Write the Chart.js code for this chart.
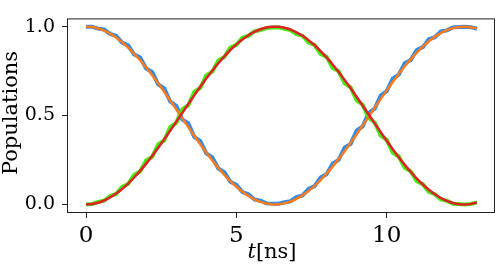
<!DOCTYPE html>
<html>
<head>
<meta charset="utf-8">
<script src="https://cdn.jsdelivr.net/npm/chart.js@4/dist/chart.umd.min.js"></script>
<style>
  html, body { margin: 0; padding: 0; background: #fff; }
  #wrap { width: 498px; height: 266px; position: relative; }
</style>
</head>
<body>
<div id="wrap"><canvas id="chart"></canvas></div>
<script>
// time axis, ns
const times = [0, 0.2, 0.4, 0.6, 0.8, 1.0, 1.2, 1.4, 1.6, 1.8, 2.0, 2.2, 2.4, 2.6, 2.8, 3.0, 3.2, 3.4, 3.6, 3.8,
  4.0, 4.2, 4.4, 4.6, 4.8, 5.0, 5.2, 5.4, 5.6, 5.8, 6.0, 6.2, 6.4, 6.6, 6.8, 7.0, 7.2, 7.4, 7.6, 7.8,
  8.0, 8.2, 8.4, 8.6, 8.8, 9.0, 9.2, 9.4, 9.6, 9.8, 10.0, 10.2, 10.4, 10.6, 10.8, 11.0, 11.2, 11.4, 11.6, 11.8,
  12.0, 12.2, 12.4, 12.6, 12.8, 13.0];

// noisy population, state 0 (blue)
const blueNoisy = [1.000, 0.999, 0.989, 0.984, 0.959, 0.949, 0.910, 0.895, 0.844, 0.827,
  0.765, 0.745, 0.675, 0.653, 0.579, 0.555, 0.479, 0.456, 0.380, 0.357,
  0.287, 0.265, 0.202, 0.181, 0.128, 0.111, 0.070, 0.057, 0.028, 0.021,
  0.006, 0.004, 0.004, 0.012, 0.018, 0.041, 0.051, 0.088, 0.103, 0.152,
  0.170, 0.230, 0.251, 0.319, 0.341, 0.415, 0.439, 0.514, 0.539, 0.613,
  0.637, 0.708, 0.730, 0.794, 0.813, 0.869, 0.885, 0.929, 0.941, 0.973,
  0.979, 0.996, 0.998, 0.999, 0.997, 0.988];

// smooth population, state 0 (orange)
const orangeFit = [1.0000, 0.9975, 0.9900, 0.9777, 0.9605, 0.9388, 0.9127, 0.8824, 0.8484, 0.8108,
  0.7702, 0.7268, 0.6812, 0.6338, 0.5850, 0.5354, 0.4854, 0.4356, 0.3864, 0.3384,
  0.2919, 0.2476, 0.2058, 0.1669, 0.1313, 0.0994, 0.0716, 0.0480, 0.0289, 0.0145,
  0.0050, 0.0004, 0.0009, 0.0063, 0.0166, 0.0318, 0.0516, 0.0760, 0.1045, 0.1370,
  0.1732, 0.2126, 0.2549, 0.2996, 0.3463, 0.3946, 0.4439, 0.4938, 0.5438, 0.5933,
  0.6418, 0.6890, 0.7343, 0.7772, 0.8173, 0.8543, 0.8878, 0.9174, 0.9428, 0.9637,
  0.9801, 0.9916, 0.9983, 0.9999, 0.9966, 0.9883];

// noisy population, state 1 (green)
const greenNoisy = [0.000, 0.003, 0.014, 0.021, 0.048, 0.059, 0.099, 0.115, 0.167, 0.185,
  0.247, 0.268, 0.338, 0.360, 0.435, 0.459, 0.535, 0.558, 0.633, 0.656,
  0.726, 0.747, 0.810, 0.829, 0.882, 0.898, 0.937, 0.948, 0.974, 0.981,
  0.992, 0.995, 0.996, 0.988, 0.981, 0.958, 0.949, 0.911, 0.898, 0.847,
  0.830, 0.769, 0.749, 0.681, 0.659, 0.585, 0.561, 0.486, 0.461, 0.387,
  0.363, 0.292, 0.270, 0.206, 0.186, 0.131, 0.114, 0.071, 0.058, 0.028,
  0.021, 0.004, 0.002, 0.000, 0.003, 0.012];

// smooth population, state 1 (red)
const redFit = [0.0000, 0.0025, 0.0100, 0.0223, 0.0395, 0.0612, 0.0873, 0.1176, 0.1516, 0.1892,
  0.2298, 0.2732, 0.3188, 0.3662, 0.4150, 0.4646, 0.5146, 0.5644, 0.6136, 0.6616,
  0.7081, 0.7524, 0.7942, 0.8331, 0.8687, 0.9006, 0.9284, 0.9520, 0.9711, 0.9855,
  0.9950, 0.9996, 0.9991, 0.9937, 0.9834, 0.9682, 0.9484, 0.9240, 0.8955, 0.8630,
  0.8268, 0.7874, 0.7451, 0.7004, 0.6537, 0.6054, 0.5561, 0.5062, 0.4562, 0.4067,
  0.3582, 0.3110, 0.2657, 0.2228, 0.1827, 0.1457, 0.1122, 0.0826, 0.0572, 0.0363,
  0.0199, 0.0084, 0.0017, 0.0001, 0.0034, 0.0117];

const xTickValues = [0, 5, 10];
const xTickLabels = ['0', '5', '10'];
const yTickValues = [0, 0.5, 1];
const yTickLabels = ['0.0', '0.5', '1.0'];

function toPoints(ys) {
  return times.map((t, i) => ({ x: t, y: ys[i] }));
}

// frame + axis titles, matplotlib style
const framePlugin = {
  id: 'frame',
  afterDatasetsDraw(chart) {
    const { ctx, chartArea: a } = chart;
    ctx.save();
    ctx.strokeStyle = '#222';
    ctx.lineWidth = 1;
    ctx.strokeRect(a.left + 0.5, a.top + 0.5, a.right - a.left - 1, a.bottom - a.top - 1);
    ctx.restore();
  },
  afterDraw(chart) {
    const ctx = chart.ctx;
    ctx.save();
    ctx.fillStyle = '#000';
    // x title: italic t + [ns]
    const fItal = 'italic 21px "DejaVu Serif"';
    const fNorm = '21px "DejaVu Serif"';
    ctx.font = fItal;
    const w1 = ctx.measureText('t').width;
    ctx.font = fNorm;
    const w2 = ctx.measureText('[ns]').width;
    let x0 = 272 - (w1 + w2) / 2;
    ctx.textBaseline = 'alphabetic';
    ctx.textAlign = 'left';
    ctx.font = fItal;
    ctx.fillText('t', x0, 258);
    ctx.font = fNorm;
    ctx.fillText('[ns]', x0 + w1, 258);
    // y title
    ctx.translate(17, 113);
    ctx.rotate(-Math.PI / 2);
    ctx.textAlign = 'center';
    ctx.font = '21px "DejaVu Serif"';
    ctx.fillText('Populations', 0, 0);
    ctx.restore();
  }
};

new Chart(document.getElementById('chart'), {
  type: 'line',
  data: {
    datasets: [
      { label: 'fit 1', data: toPoints(redFit), borderColor: '#e01f26', borderWidth: 2.5, tension: 0.4 },
      { label: 'fit 0', data: toPoints(orangeFit), borderColor: '#ff7a1a', borderWidth: 2.5, tension: 0.4 },
      { label: 'pop 1', data: toPoints(greenNoisy), borderColor: '#47ea12', borderWidth: 4, tension: 0 },
      { label: 'pop 0', data: toPoints(blueNoisy), borderColor: '#2f8ce8', borderWidth: 4, tension: 0 }
    ]
  },
  options: {
    responsive: true,
    maintainAspectRatio: false,
    animation: false,
    layout: { padding: { top: 1, right: 3, left: 0, bottom: 0 } },
    elements: { point: { radius: 0 } },
    plugins: {
      legend: { display: false },
      tooltip: { enabled: false }
    },
    scales: {
      x: {
        type: 'linear',
        min: -0.632,
        max: 13.6,
        afterBuildTicks: (scale) => { scale.ticks = xTickValues.map(v => ({ value: v })); },
        afterFit: (scale) => { scale.height = 53; },
        ticks: {
          color: '#000',
          padding: 4,
          maxRotation: 0,
          font: { family: 'DejaVu Serif', size: 23 },
          callback: (v) => xTickLabels[xTickValues.indexOf(v)]
        },
        grid: { drawOnChartArea: false, drawTicks: true, tickLength: 5, color: '#222' },
        border: { display: false }
      },
      y: {
        type: 'linear',
        min: -0.048,
        max: 1.0464,
        afterBuildTicks: (scale) => { scale.ticks = yTickValues.map(v => ({ value: v })); },
        afterFit: (scale) => { scale.width = 67; },
        ticks: {
          color: '#000',
          padding: 7,
          font: { family: 'DejaVu Serif', size: 19 },
          callback: (v) => yTickLabels[yTickValues.indexOf(v)]
        },
        grid: { drawOnChartArea: false, drawTicks: true, tickLength: 5, color: '#222' },
        border: { display: false }
      }
    }
  },
  plugins: [framePlugin]
});
</script>
</body>
</html>
